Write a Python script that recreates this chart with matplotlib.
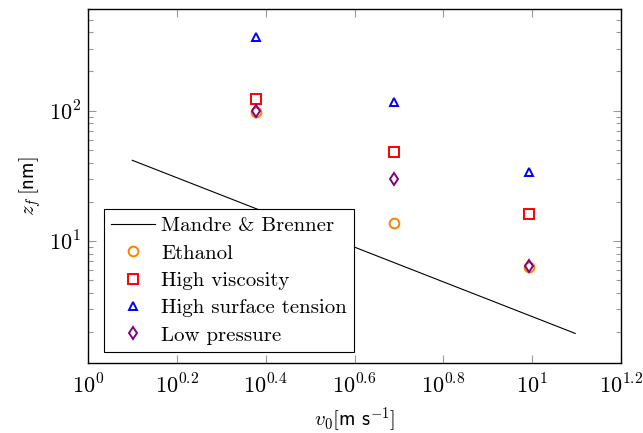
import matplotlib
matplotlib.use("Agg")
import matplotlib.pyplot as plt
import numpy as np

# Data
v_points = [2.39, 4.88, 9.85]
ethanol = [98, 13.8, 6.36]
high_viscosity = [122, 48.4, 16.0]
high_surface_tension = [366, 117, 34.0]
low_pressure = [100, 29.7, 6.45]

mb_v = [1.258, 12.5]
mb_z = [41.6, 1.95]

xticks = [1, 10**0.2, 10**0.4, 10**0.6, 10**0.8, 10**1, 10**1.2]
xticklabels = [r"$10^{0}$", r"$10^{0.2}$", r"$10^{0.4}$", r"$10^{0.6}$",
               r"$10^{0.8}$", r"$10^{1}$", r"$10^{1.2}$"]
yticks = [10, 100]
yticklabels = [r"$10^{1}$", r"$10^{2}$"]

plt.rcParams['mathtext.fontset'] = 'cm'
plt.rcParams['font.family'] = ['cmr10', 'DejaVu Serif']
plt.rcParams['axes.unicode_minus'] = False

fig = plt.figure(figsize=(6.43, 4.33), dpi=100)
ax = fig.add_axes([0.1369, 0.161, 0.9658 - 0.1369, 0.9785 - 0.161])

ax.plot(mb_v, mb_z, color='black', lw=0.8, label='Mandre & Brenner')
ms = 7
mew = 1.4
ax.plot(v_points, ethanol, ls='none', marker='o', ms=ms, mfc='none', mec='#FF8000', mew=mew, label='Ethanol')
ax.plot(v_points, high_viscosity, ls='none', marker='s', ms=ms, mfc='none', mec='#FF0000', mew=mew, label='High viscosity')
ax.plot(v_points, high_surface_tension, ls='none', marker='^', ms=ms - 0.8, mfc='none', mec='#0000FF', mew=mew, label='High surface tension')
ax.plot(v_points, low_pressure, ls='none', marker='d', ms=ms - 0.5, mfc='none', mec='#800080', mew=mew, label='Low pressure')

ax.set_xscale('log')
ax.set_yscale('log')
ax.set_xlim(1, 10**1.2)
ax.set_ylim(1.15, 600)

ax.set_xticks(xticks)
ax.set_xticklabels(xticklabels)
ax.xaxis.set_minor_locator(matplotlib.ticker.NullLocator())
ax.set_yticks(yticks)
ax.set_yticklabels(yticklabels)
ax.yaxis.set_minor_locator(matplotlib.ticker.LogLocator(base=10, subs=np.arange(2, 10)))
ax.yaxis.set_minor_formatter(matplotlib.ticker.NullFormatter())

ax.tick_params(which='both', direction='in', top=True, right=True, color='#999999', labelsize=16)
ax.tick_params(which='major', length=6, width=0.8)
ax.tick_params(which='minor', length=3.5, width=0.8)
ax.tick_params(axis='x', pad=7)
ax.tick_params(axis='y', pad=5)
for s in ax.spines.values():
    s.set_linewidth(1.0)

ax.set_xlabel(r"$v_0[\mathsf{m\ s}^{-1}]$", fontsize=15, labelpad=6)
ax.set_ylabel(r"$z_f\,[\mathsf{nm}]$", fontsize=15)

leg = ax.legend(loc='lower left', bbox_to_anchor=(0.03, 0.032), borderaxespad=0,
                fontsize=15, frameon=True, fancybox=False, framealpha=1,
                edgecolor='black', handlelength=2.1, handletextpad=0.3,
                labelspacing=0.42, borderpad=0.35)
leg.get_frame().set_linewidth(0.8)

fig.savefig('out.png', dpi=100)
